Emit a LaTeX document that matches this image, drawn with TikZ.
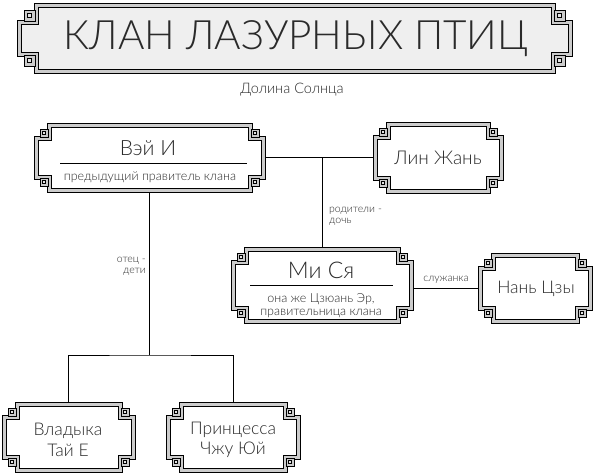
\documentclass[tikz,border=0pt]{standalone}
\usepackage{fontspec}
\IfFontExistsTF{Lato Light}{\setmainfont{Lato Light}}{\setmainfont{Lato}}
\definecolor{band}{HTML}{CCCCCC}
\definecolor{bandb}{HTML}{E2E2E2}
\definecolor{titlefill}{HTML}{EFEFEF}
\definecolor{txt}{HTML}{2A2A2A}
\tikzset{
  conn/.style={draw=black, line width=1pt},
  lbl/.style={font=\fontsize{10.5}{10.5}\selectfont, text=txt, inner sep=0pt},
  bigname/.style={font=\fontsize{20}{24}\selectfont, text=txt, inner sep=0pt, align=center},
  subname/.style={font=\fontsize{12.5}{13.5}\selectfont, text=txt, inner sep=0pt, align=center},
  rule/.style={draw=black, line width=0.8pt}
}
\newcommand\ornsq[3]{%
  \path[fill=band,draw=black,line width=0.7pt] (#1,#2) rectangle ++(#3,#3);
  \path[fill=bandb,draw=black,line width=0.6pt] ({#1+#3*0.3},{#2+#3*0.3}) rectangle ++({#3*0.4},{#3*0.4});
}
% name, x1, y1, x2, y2, notch, ornament size, fill
\newcommand\ornframe[8]{%
  \path[fill=band,draw=black,line width=0.8pt]
    (#2+#6,#3) -- (#4-#6,#3) -- (#4-#6,#3+#6) -- (#4,#3+#6) -- (#4,#5-#6) -- (#4-#6,#5-#6)
    -- (#4-#6,#5) -- (#2+#6,#5) -- (#2+#6,#5-#6) -- (#2,#5-#6) -- (#2,#3+#6) -- (#2+#6,#3+#6) -- cycle;
  \path[fill=#8,draw=black,line width=0.8pt]
    (#2+#6+4,#3+4) -- (#4-#6-4,#3+4) -- (#4-#6-4,#3+#6+4) -- (#4-4,#3+#6+4) -- (#4-4,#5-#6-4)
    -- (#4-#6-4,#5-#6-4) -- (#4-#6-4,#5-4) -- (#2+#6+4,#5-4) -- (#2+#6+4,#5-#6-4) -- (#2+4,#5-#6-4)
    -- (#2+4,#3+#6+4) -- (#2+#6+4,#3+#6+4) -- cycle;
  \ornsq{#2+#6-#7+1}{#3+#6-#7+1}{#7}
  \ornsq{#4-#6-1}{#3+#6-#7+1}{#7}
  \ornsq{#2+#6-#7+1}{#5-#6-1}{#7}
  \ornsq{#4-#6-1}{#5-#6-1}{#7}
  \node[inner sep=0pt, outer sep=0pt, minimum width={(#4-#2)*1pt}, minimum height={(#5-#3)*1pt}]
    (#1) at ({(#2+#4)/2},{(#3+#5)/2}) {};
}
\begin{document}
\begin{tikzpicture}[x=1pt,y=-1pt]
\useasboundingbox[fill=white] (0,0) rectangle (596,474);

% frames
\ornframe{title}{17}{3}{572}{73}{17}{11}{titlefill}
\ornframe{wei}{34}{123}{265}{192}{13}{8}{white}
\ornframe{lin}{373}{122}{503}{193}{13}{8}{white}
\ornframe{misya}{231}{247}{413}{323}{13}{8}{white}
\ornframe{nan}{478}{253}{592}{323}{13}{8}{white}
\ornframe{vlad}{2}{402}{135}{472}{13}{8}{white}
\ornframe{prin}{166}{402}{300}{472}{13}{8}{white}

% connectors
\draw[conn] (wei.east) -- (wei.east -| lin.west);
\coordinate (j1) at (322,157.5);
\draw[conn] (j1) -- (j1 |- misya.north);
\coordinate (j2) at (149.5,355);
\draw[conn] (wei.south) -- (j2);
\draw[conn] (vlad.north) |- (j2) -| (prin.north);
\draw[conn] (misya.east |- nan.west) -- (nan.west);

% texts
\node[font=\fontsize{40.5}{44}\selectfont, text=txt, inner sep=0pt] (ttl) at (296,39) {КЛАН ЛАЗУРНЫХ ПТИЦ};
\node[font=\fontsize{14.5}{16}\selectfont, text=txt, inner sep=0pt] (valley) at (292,90) {Долина Солнца};

\node[bigname, font=\fontsize{21}{24}\selectfont] (weit) at (148,148) {Вэй И};
\draw[rule] (60,163) -- (247,163);
\node[subname] (weis) at (150,177.5) {предыдущий правитель клана};

\node[bigname, font=\fontsize{19}{22}\selectfont] (lint) at (438,158) {Лин Жань};

\node[bigname, font=\fontsize{23}{26}\selectfont] (misyat) at (321,270) {Ми Ся};
\draw[rule] (250,285) -- (393,285);
\node[subname] (misyas) at (321,305.5) {она же Цзюань Эр,\\правительница клана};

\node[bigname, font=\fontsize{17.5}{20}\selectfont] (nant) at (536,289) {Нань Цзы};

\node[bigname, font=\fontsize{17.5}{20.5}\selectfont] (vladt) at (68,440) {Владыка\\Тай Е};
\node[bigname, font=\fontsize{17.5}{20.5}\selectfont] (print) at (233,440) {Принцесса\\Чжу Юй};

\node[lbl, anchor=north east, align=right] (l1) at (146,257) {отец -\\дети};
\node[lbl, anchor=north west, align=left] (l2) at (329,207) {родители -\\дочь};
\node[lbl] (l3) at (446,280) {служанка};
\end{tikzpicture}
\end{document}
